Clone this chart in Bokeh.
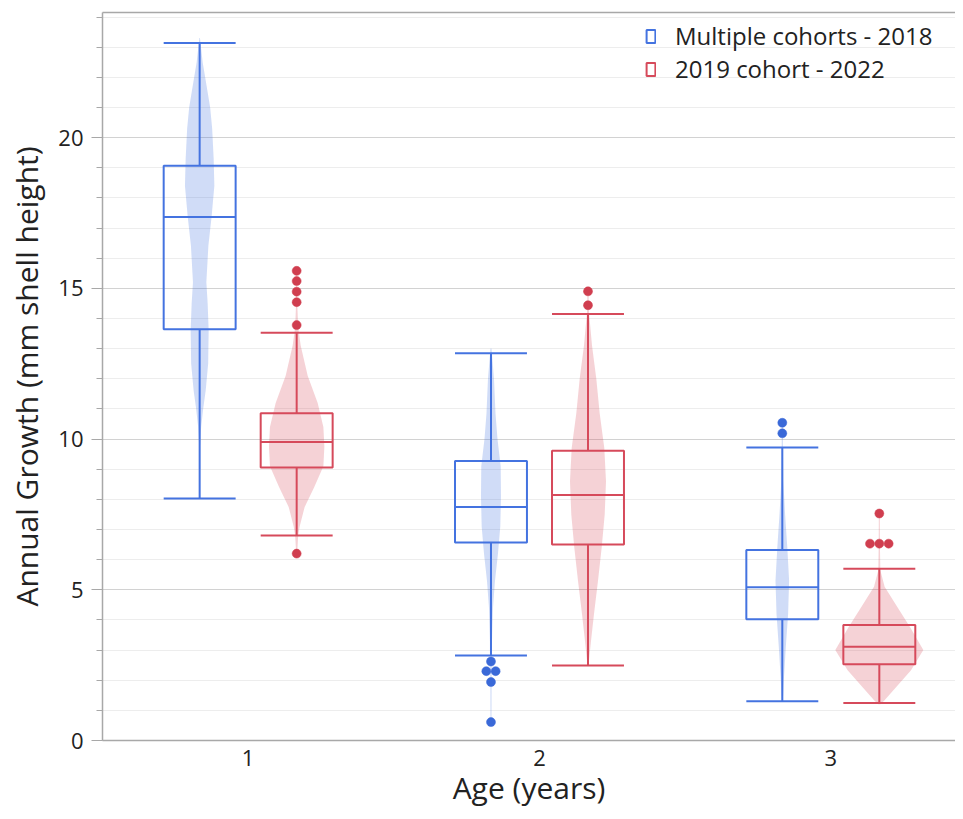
from bokeh.plotting import figure
from bokeh.models import (Range1d, FixedTicker, SingleIntervalTicker, LinearAxis,
                          Legend, LegendItem, ColumnDataSource)
from bokeh.embed import file_html
from bokeh.resources import INLINE

# ---------------- data ----------------
ages = [1, 2, 3]
age_labels = ["1", "2", "3"]
series_names = ["Multiple cohorts - 2018", "2019 cohort - 2022"]
x_title = "Age (years)"
y_title = "Annual Growth (mm shell height)"

# box statistics, one value per age (1, 2, 3)
c2018_whisker_low = [8.03, 2.82, 1.30]
c2018_q1 = [13.64, 6.57, 4.02]
c2018_median = [17.37, 7.75, 5.08]
c2018_q3 = [19.07, 9.27, 6.32]
c2018_whisker_high = [23.14, 12.85, 9.72]

c2019_whisker_low = [6.80, 2.49, 1.24]
c2019_q1 = [9.06, 6.50, 2.53]
c2019_median = [9.90, 8.14, 3.11]
c2019_q3 = [10.86, 9.61, 3.83]
c2019_whisker_high = [13.53, 14.15, 5.70]

# outliers
c2018_outlier_age = [2, 2, 2, 2, 2, 3, 3]
c2018_outlier_value = [2.62, 2.30, 2.30, 1.94, 0.61, 10.54, 10.19]
c2019_outlier_age = [1, 1, 1, 1, 1, 1, 2, 2, 3, 3, 3, 3]
c2019_outlier_value = [15.58, 15.24, 14.89, 14.54, 13.78, 6.20, 14.90, 14.44, 7.53, 6.53, 6.53, 6.53]

# violin density profiles (growth level, relative density) per age
c2018_violin_levels = [
    [9.8, 10.4, 11.0, 11.6, 12.5, 13.6, 14.5, 15.2, 16.4, 17.4, 18.4, 19.3, 20.3, 21.0, 21.9, 22.5, 23.3],
    [0.6, 2.0, 3.0, 3.55, 4.4, 5.3, 6.2, 7.1, 8.1, 9.1, 10.0, 10.85, 12.0, 13.0],
    [1.3, 2.0, 3.1, 4.2, 5.3, 6.4, 7.5, 8.6, 9.7, 10.5],
]
c2018_violin_density = [
    [0.5, 1.5, 3.5, 6.0, 8.5, 9.0, 8.0, 6.7, 8.7, 12.0, 14.7, 14.0, 12.5, 10.5, 6.0, 3.0, 0.3],
    [0.5, 0.6, 0.8, 1.2, 2.0, 4.0, 7.0, 9.3, 10.0, 9.7, 6.5, 4.5, 3.0, 0.5],
    [0.5, 1.5, 3.5, 5.8, 6.8, 5.0, 2.8, 1.0, 0.6, 0.5],
]
c2019_violin_levels = [
    [6.2, 6.8, 7.1, 7.75, 8.4, 9.1, 9.75, 10.4, 11.2, 12.1, 13.1, 13.7, 14.5, 15.6],
    [2.5, 3.3, 4.2, 5.3, 6.4, 7.5, 8.6, 9.7, 10.85, 12.0, 13.1, 14.2, 14.9],
    [1.2, 1.33, 1.77, 2.33, 3.0, 3.76, 4.43, 5.1, 5.65, 6.5, 7.5],
]
c2019_violin_density = [
    [0.5, 1.5, 3.0, 8.0, 17.5, 26.7, 27.7, 26.7, 21.0, 11.0, 4.0, 1.5, 0.6, 0.5],
    [0.5, 3.0, 6.0, 10.0, 13.7, 16.7, 18.0, 16.3, 11.7, 8.3, 4.0, 1.0, 0.5],
    [1.0, 5.0, 16.7, 31.7, 44.0, 30.8, 18.0, 5.3, 1.0, 0.6, 0.5],
]

# ---------------- style ----------------
BLUE = "#4473E0"
RED = "#D64A5B"
BLUE_DOT = "#3A69D8"
RED_DOT = "#D03E4F"
TEXT = "#222222"
FONT = "Open Sans"
DODGE = 0.1665
BOX_W = 0.247
VIOLIN_SCALE = 1 / 291.3
DUP_STEP = 0.032

p = figure(width=955, height=811,
           x_range=Range1d(0.5, 3.428), y_range=Range1d(0, 24.15),
           output_backend="svg", toolbar_location=None,
           min_border_left=102, min_border_right=0, min_border_top=12, min_border_bottom=71)
p.outline_line_color = None
p.background_fill_color = "white"
p.border_fill_color = "white"

# axes
p.xaxis.ticker = FixedTicker(ticks=ages)
p.xaxis.major_label_overrides = {a: l for a, l in zip(ages, age_labels)}
p.xaxis.major_tick_out = 0
p.xaxis.major_tick_in = 0
p.xaxis.minor_tick_out = 0
p.xaxis.axis_line_color = "#A8A8A8"
p.xaxis.axis_line_width = 1.5
p.xaxis.axis_label = x_title
p.xaxis.major_label_standoff = 9

p.yaxis.ticker = SingleIntervalTicker(interval=5, num_minor_ticks=5)
p.yaxis.axis_line_color = "#A8A8A8"
p.yaxis.axis_line_width = 1.5
p.yaxis.major_tick_line_color = "#A8A8A8"
p.yaxis.minor_tick_line_color = "#A8A8A8"
p.yaxis.major_tick_out = 11
p.yaxis.major_tick_in = 0
p.yaxis.minor_tick_out = 6
p.yaxis.minor_tick_in = 0
p.yaxis.axis_label = y_title
p.yaxis.major_label_standoff = 8

for ax in (p.xaxis, p.yaxis):
    ax.major_label_text_font = FONT
    ax.major_label_text_font_size = "22px"
    ax.major_label_text_color = TEXT
    ax.axis_label_text_font = FONT
    ax.axis_label_text_font_size = "30px"
    ax.axis_label_text_font_style = "normal"
    ax.axis_label_text_color = TEXT
p.yaxis.axis_label_standoff = 8
p.xaxis.axis_label_standoff = -2

top_axis = LinearAxis(ticker=FixedTicker(ticks=[]), axis_line_color="#A8A8A8",
                      axis_line_width=1.5, major_tick_out=0, minor_tick_out=0,
                      major_label_standoff=0, major_label_text_font_size="0px")
p.add_layout(top_axis, "above")

p.xgrid.grid_line_color = None
p.ygrid.grid_line_color = "#D2D2D2"
p.ygrid.grid_line_width = 1.2
p.ygrid.minor_grid_line_color = "#EDEDED"
p.ygrid.minor_grid_line_width = 1.2

series = [
    dict(offset=-DODGE, color=BLUE, dot=BLUE_DOT,
         wl=c2018_whisker_low, q1=c2018_q1, med=c2018_median, q3=c2018_q3, wh=c2018_whisker_high,
         oa=c2018_outlier_age, ov=c2018_outlier_value,
         vl=c2018_violin_levels, vd=c2018_violin_density),
    dict(offset=DODGE, color=RED, dot=RED_DOT,
         wl=c2019_whisker_low, q1=c2019_q1, med=c2019_median, q3=c2019_q3, wh=c2019_whisker_high,
         oa=c2019_outlier_age, ov=c2019_outlier_value,
         vl=c2019_violin_levels, vd=c2019_violin_density),
]

legend_items = []
for name, s in zip(series_names, series):
    centers = [a + s["offset"] for a in ages]
    # violins
    xs, ys = [], []
    for c, lv, dn in zip(centers, s["vl"], s["vd"]):
        right = [c + d * VIOLIN_SCALE for d in dn]
        left = [c - d * VIOLIN_SCALE for d in reversed(dn)]
        xs.append(right + left)
        ys.append(list(lv) + list(reversed(lv)))
    p.patches(xs=xs, ys=ys, fill_color=s["color"], fill_alpha=0.25, line_color=None)

    src = ColumnDataSource(dict(
        x=centers, x0=[c - BOX_W / 2 for c in centers], x1=[c + BOX_W / 2 for c in centers],
        wl=s["wl"], q1=s["q1"], med=s["med"], q3=s["q3"], wh=s["wh"]))
    # whisker stems
    p.segment(x0="x", x1="x", y0="q3", y1="wh", source=src, line_color=s["color"], line_width=2)
    p.segment(x0="x", x1="x", y0="q1", y1="wl", source=src, line_color=s["color"], line_width=2)
    # caps
    p.segment(x0="x0", x1="x1", y0="wh", y1="wh", source=src, line_color=s["color"], line_width=2)
    p.segment(x0="x0", x1="x1", y0="wl", y1="wl", source=src, line_color=s["color"], line_width=2)
    # box
    box = p.vbar(x="x", width=BOX_W, bottom="q1", top="q3", source=src,
                 fill_color=None, line_color=s["color"], line_width=2)
    # median
    p.segment(x0="x0", x1="x1", y0="med", y1="med", source=src, line_color=s["color"], line_width=2)

    # outliers, equal values spread side by side
    ox = []
    for i, (a, v) in enumerate(zip(s["oa"], s["ov"])):
        same = [j for j, (a2, v2) in enumerate(zip(s["oa"], s["ov"])) if a2 == a and v2 == v]
        k = same.index(i)
        n = len(same)
        ox.append(a + s["offset"] + (k - (n - 1) / 2) * DUP_STEP)
    p.scatter(x=ox, y=s["ov"], size=9, fill_color=s["dot"], line_color=s["dot"], line_width=0.5)

    legend_items.append(LegendItem(label=name, renderers=[box]))

legend = Legend(items=legend_items, location=(543, 655))
legend.border_line_color = None
legend.background_fill_alpha = 0
legend.label_text_font = FONT
legend.label_text_font_size = "24px"
legend.label_text_color = TEXT
legend.glyph_width = 11
legend.glyph_height = 16
legend.label_standoff = 19
legend.spacing = 0
legend.padding = 0
legend.margin = 0
p.add_layout(legend)

open("out.html", "w").write(file_html(p, INLINE))
